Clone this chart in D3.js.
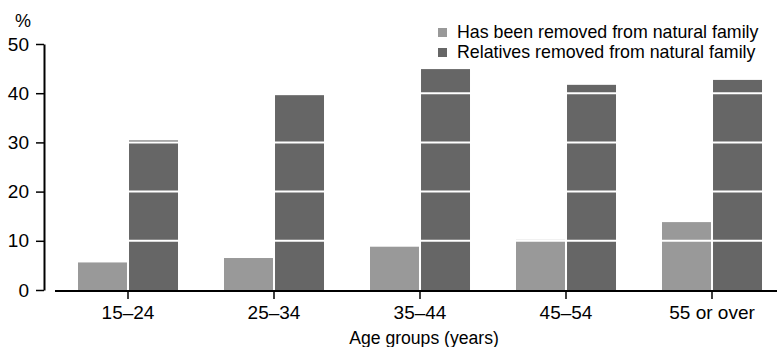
<!DOCTYPE html>
<html>
<head>
<meta charset="utf-8">
<script src="https://cdn.jsdelivr.net/npm/d3@7"></script>
<style>
  body { margin: 0; background: #fff; }
  svg { display: block; font-family: "Liberation Sans", Arial, sans-serif; }
</style>
</head>
<body>
<svg id="chart" width="777" height="347"></svg>
<script>
var categories = ["15–24", "25–34", "35–44", "45–54", "55 or over"];
var seriesNames = ["Has been removed from natural family", "Relatives removed from natural family"];
var removedSelf = [5.6, 6.5, 8.8, 10.2, 13.8];
var removedRelatives = [30.4, 39.6, 44.9, 41.7, 42.7];
var yTicks = [0, 10, 20, 30, 40, 50];
var colors = ["#999999", "#666666"];

var svg = d3.select("#chart");

var y = d3.scaleLinear().domain([0, 50]).range([290, 44]);

var x0 = d3.scaleBand()
    .domain(categories)
    .range([55, 785])
    .paddingInner(0.315)
    .paddingOuter(0.1575);

var x1 = d3.scaleBand()
    .domain(seriesNames)
    .range([0, x0.bandwidth()])
    .paddingInner(0.04);

var rows = categories.map(function (c, i) {
  return { cat: c, values: [removedSelf[i], removedRelatives[i]] };
});

// bars
var groups = svg.selectAll(".grp")
    .data(rows)
    .enter().append("g")
    .attr("class", "grp")
    .attr("transform", function (d) { return "translate(" + x0(d.cat) + ",0)"; });

groups.selectAll("rect")
    .data(function (d) { return d.values.map(function (v, j) { return { s: seriesNames[j], v: v, j: j }; }); })
    .enter().append("rect")
    .attr("x", function (d) { return x1(d.s); })
    .attr("width", x1.bandwidth())
    .attr("y", function (d) { return y(d.v); })
    .attr("height", function (d) { return y(0) - y(d.v); })
    .attr("fill", function (d) { return colors[d.j]; });

// white grid lines over the bars
svg.selectAll(".grid")
    .data(yTicks.filter(function (t) { return t > 0; }))
    .enter().append("line")
    .attr("class", "grid")
    .attr("x1", 46).attr("x2", 777)
    .attr("y1", function (d) { return y(d); })
    .attr("y2", function (d) { return y(d); })
    .attr("stroke", "#fff")
    .attr("stroke-width", 2);

// y axis
var yAxis = svg.append("g")
    .attr("transform", "translate(44,0)")
    .call(d3.axisLeft(y).tickValues(yTicks).tickSize(8).tickPadding(7).tickSizeOuter(0));
yAxis.select(".domain").attr("stroke", "#000").attr("stroke-width", 2);
yAxis.selectAll(".tick line").attr("stroke", "#000").attr("stroke-width", 1.5);
yAxis.selectAll(".tick text").attr("font-size", 19).attr("font-family", "Liberation Sans").attr("fill", "#000");

// x axis
var xAxis = svg.append("g")
    .attr("transform", "translate(0,291)")
    .call(d3.axisBottom(x0).tickSize(8).tickPadding(7).tickSizeOuter(0));
xAxis.select(".domain").attr("stroke", "#000").attr("stroke-width", 2)
    .attr("d", "M55,0H777");
xAxis.selectAll(".tick line").attr("stroke", "#000").attr("stroke-width", 1.5);
xAxis.selectAll(".tick text").attr("font-size", 19).attr("font-family", "Liberation Sans").attr("fill", "#000");

svg.append("text")
    .attr("x", 424).attr("y", 344)
    .attr("text-anchor", "middle")
    .attr("font-size", 17.6)
    .text("Age groups (years)");

svg.append("text")
    .attr("x", 23).attr("y", 27)
    .attr("text-anchor", "middle")
    .attr("font-size", 18)
    .text("%");

// legend
var legend = svg.selectAll(".legend")
    .data(seriesNames)
    .enter().append("g")
    .attr("class", "legend")
    .attr("transform", function (d, i) { return "translate(438," + (28 + i * 20) + ")"; });

legend.append("rect")
    .attr("width", 9).attr("height", 9)
    .attr("fill", function (d, i) { return colors[i]; });

legend.append("text")
    .attr("x", 19).attr("y", 10)
    .attr("font-size", 17.8)
    .text(function (d) { return d; });
</script>
</body>
</html>
